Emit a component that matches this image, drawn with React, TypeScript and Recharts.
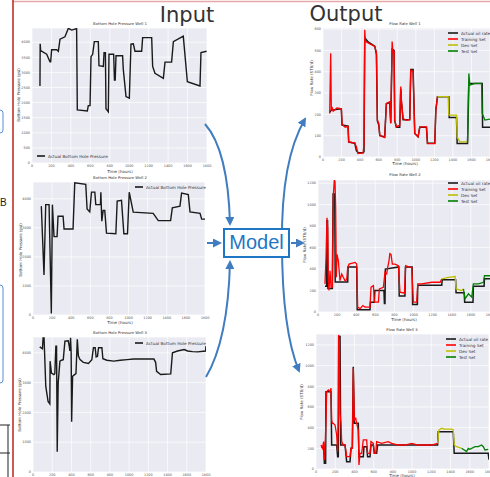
import { LineChart, Line, XAxis, YAxis, CartesianGrid, Legend } from 'recharts';

type Pt = [number, number];

// tick labels
const hourTicks = [0, 200, 400, 600, 800, 1000, 1200, 1400, 1600, 1800];
const psiTicksFine = [0, 500, 1000, 1500, 2000, 2500, 3000, 3500, 4000];
const psiTicks = [0, 1000, 2000, 3000, 4000];
const oilTicksWell1 = [0, 100, 200, 300, 400, 500, 600];
const oilTicks = [0, 200, 400, 600, 800, 1000, 1200];

// input: bottom hole pressure [hours, psi]
const bhpWell1: Pt[] = [
  [82, 2550], [84, 3950], [89, 3720], [151, 3600], [185, 3350], [192, 3350], [202, 3750], [254, 3750],
  [271, 3700], [288, 4100], [339, 4180], [374, 4460], [408, 4400], [459, 4450], [466, 1760], [569, 1720],
  [579, 1900], [597, 1900], [607, 3520], [624, 3600], [641, 4020], [682, 4020], [689, 3220], [734, 3200],
  [741, 3650], [755, 3650], [761, 1800], [785, 1700], [792, 3600], [840, 3600], [848, 2750], [856, 2750],
  [864, 3550], [932, 3550], [939, 3100], [967, 2200], [1001, 2150], [1018, 3940], [1042, 3950], [1059, 3700],
  [1128, 3700], [1138, 4150], [1231, 4150], [1241, 3200], [1265, 2970], [1351, 2800], [1368, 3340], [1436, 3340],
  [1454, 4020], [1556, 4200], [1598, 2690], [1728, 2550], [1738, 3660], [1796, 3700],
];
const bhpWell2: Pt[] = [
  [87, 3750], [115, 1380], [133, 3800], [168, 3800], [192, 50], [203, 3800], [220, 2700], [252, 2700],
  [262, 3400], [315, 3400], [325, 2960], [419, 2960], [437, 4550], [552, 4500], [566, 3650], [594, 3550],
  [612, 4230], [647, 4230], [657, 3800], [706, 3800], [710, 4230], [720, 3230], [734, 3600], [751, 3600],
  [769, 2820], [867, 2800], [881, 3920], [926, 3950], [951, 2800], [989, 2800], [1007, 4230], [1049, 3540],
  [1258, 3500], [1311, 3250], [1440, 3250], [1458, 3690], [1538, 3750], [1555, 4200], [1625, 4150], [1643, 3550],
  [1748, 3500], [1765, 3300], [1800, 3300],
];
const bhpWell3: Pt[] = [
  [70, 4200], [98, 4135], [105, 4500], [115, 4500], [133, 2870], [157, 2370], [175, 2290], [178, 3720],
  [192, 3320], [217, 3270], [227, 3300], [238, 4225], [245, 4225], [252, 680], [262, 2990], [280, 3720],
  [297, 3750], [315, 3770], [332, 4390], [367, 4400], [377, 4225], [384, 4060], [391, 4500], [397, 4000],
  [402, 1690], [412, 3210], [426, 3250], [447, 3300], [461, 4450], [472, 3900], [489, 3770], [524, 3680],
  [577, 3640], [612, 3770], [629, 4170], [647, 4170], [657, 3860], [671, 3880], [682, 4170], [717, 4170],
  [727, 3800], [769, 3750], [839, 3720], [909, 3750], [979, 3770], [1049, 3790], [1258, 3790], [1276, 3680],
  [1286, 3380], [1328, 3270], [1433, 3290], [1451, 4000], [1503, 4060], [1573, 4110], [1608, 4060], [1660, 4040],
  [1713, 4030], [1795, 4060], [1800, 4225],
];

// output: flow rate [hours, STB/d]
const well1Actual: Pt[] = [
  [72, 210], [90, 220], [180, 225], [198, 225], [205, 150], [270, 145], [277, 70], [342, 65], [360, 30],
  [378, 20], [432, 20], [442, 25], [450, 560], [486, 540], [558, 520], [576, 480], [586, 170], [601, 150],
  [612, 100], [665, 95], [683, 250], [719, 255], [730, 160], [745, 505], [766, 500], [773, 170], [791, 140],
  [827, 140], [838, 320], [845, 260], [863, 175], [935, 175], [946, 410], [971, 410], [989, 110], [1025, 95],
  [1043, 140], [1115, 140], [1126, 65], [1205, 65], [1216, 220], [1234, 283], [1356, 283], [1360, 185],
  [1439, 185], [1446, 63], [1558, 63], [1572, 345], [1716, 345], [1720, 140], [1800, 140],
];
const well1Train: Pt[] = [
  [72, 204], [83, 487], [90, 220], [97, 235], [110, 215], [126, 220], [150, 230], [180, 228], [198, 222],
  [205, 157], [216, 149], [240, 140], [270, 144], [277, 71], [310, 68], [342, 66], [360, 47], [378, 16],
  [432, 19], [442, 60], [450, 597], [457, 542], [486, 535], [558, 518], [576, 490], [586, 173], [601, 157],
  [612, 102], [640, 95], [665, 91], [683, 251], [719, 259], [730, 157], [745, 542], [755, 487], [766, 500],
  [773, 173], [791, 141], [827, 150], [838, 330], [845, 267], [863, 180], [900, 172], [935, 176], [946, 408],
  [971, 400], [989, 110], [1025, 94], [1043, 141], [1115, 141], [1126, 63], [1205, 63], [1216, 220], [1234, 283],
];
const well1Dev: Pt[] = [
  [1234, 283], [1349, 283], [1356, 196], [1439, 196], [1446, 94], [1475, 71], [1547, 71], [1558, 71],
];
const well1Test: Pt[] = [
  [1558, 71], [1572, 392], [1583, 337], [1637, 345], [1709, 345], [1716, 204], [1745, 173], [1799, 178],
];

const well2Actual: Pt[] = [
  [73, 240], [90, 240], [94, 850], [100, 850], [104, 220], [150, 220], [158, 1100], [175, 1100], [180, 280],
  [311, 280], [315, 420], [405, 420], [410, 20], [544, 20], [548, 90], [590, 90], [595, 200], [690, 200],
  [695, 80], [701, 80], [705, 400], [846, 420], [850, 150], [910, 150], [915, 420], [985, 420], [990, 70],
  [1040, 70], [1044, 250], [1295, 250], [1300, 300], [1440, 300], [1445, 180], [1530, 180], [1535, 90],
  [1622, 90], [1626, 240], [1738, 240], [1742, 310], [1800, 310],
];
const well2Train: Pt[] = [
  [73, 262], [84, 508], [94, 877], [101, 785], [108, 292], [115, 200], [126, 385], [136, 231], [150, 231],
  [161, 1092], [171, 1231], [178, 1215], [185, 969], [192, 323], [199, 538], [213, 477], [230, 292], [248, 354],
  [265, 323], [283, 292], [300, 300], [311, 415], [325, 446], [388, 462], [405, 446], [415, 46], [440, 31],
  [470, 60], [492, 46], [544, 46], [555, 231], [580, 246], [590, 92], [632, 92], [642, 215], [684, 230],
  [701, 369], [719, 354], [729, 415], [743, 477], [752, 545], [764, 538], [778, 446], [806, 446], [841, 431],
  [858, 185], [904, 175], [918, 431], [963, 415], [981, 415], [998, 92], [1033, 92], [1044, 262], [1086, 262],
  [1190, 277], [1278, 277], [1295, 308],
];
const well2Dev: Pt[] = [
  [1295, 308], [1365, 323], [1435, 330], [1445, 215], [1504, 200], [1522, 215],
];
const well2Test: Pt[] = [
  [1522, 215], [1539, 123], [1574, 169], [1609, 138], [1626, 262], [1679, 262], [1731, 277], [1742, 338],
  [1800, 338],
];

const well3Actual: Pt[] = [
  [52, 216], [80, 216], [87, 55], [100, 55], [104, 748], [156, 748], [163, 232], [215, 232], [225, 119],
  [232, 119], [236, 1281], [250, 1281], [257, 232], [302, 232], [319, 71], [354, 71], [364, 200], [378, 200],
  [388, 990], [399, 442], [440, 442], [447, 119], [492, 119], [499, 216], [527, 216], [537, 119], [562, 119],
  [572, 232], [596, 232], [607, 152], [631, 152], [641, 232], [1265, 232], [1272, 361], [1428, 361],
  [1438, 152], [1792, 152], [1800, 90],
];
const well3Train: Pt[] = [
  [52, 232], [66, 200], [80, 265], [87, 87], [94, 200], [104, 474], [111, 748], [128, 765], [146, 748],
  [156, 781], [163, 474], [170, 442], [180, 442], [198, 426], [215, 329], [225, 168], [232, 500], [236, 1297],
  [243, 1248], [250, 539], [260, 442], [267, 265], [284, 232], [302, 232], [319, 119], [354, 119], [364, 200],
  [378, 200], [388, 974], [399, 474], [413, 490], [423, 442], [440, 377], [447, 39], [458, 152], [475, 152],
  [492, 281], [527, 281], [537, 152], [562, 152], [572, 265], [596, 248], [607, 152], [621, 152], [631, 265],
  [683, 248], [752, 265], [787, 248], [856, 232], [926, 232], [995, 248], [1064, 232], [1203, 232], [1265, 248],
];
const well3Dev: Pt[] = [
  [1265, 248], [1279, 377], [1306, 394], [1341, 385], [1411, 385], [1428, 377], [1438, 232], [1463, 216],
  [1515, 200],
];
const well3Test: Pt[] = [
  [1515, 200], [1567, 168], [1584, 200], [1602, 190], [1654, 216], [1688, 216], [1723, 232], [1741, 216],
  [1758, 184], [1792, 190],
];

const bhpName = 'Actual Bottom Hole Pressure';
const flowNames = ['Actual oil rate', 'Training Set', 'Dev Set', 'Test Set'];

type Series = { name: string; color: string; points: Pt[]; width: number };
type Box = { x: number; y: number; w: number; h: number };

const YW = 16;
const XH = 9;
const MT = 1;
const MR = 7;
const chartFont = '"DejaVu Sans", sans-serif';

const LegendRows = ({ payload, order, iconW }: any) => {
  const items = [...(payload ?? [])].sort(
    (a: any, b: any) => order.indexOf(a.value) - order.indexOf(b.value)
  );
  return (
    <div style={{ fontFamily: chartFont, fontSize: 4.2, color: '#333' }}>
      {items.map((it: any) => (
        <div key={it.value} style={{ display: 'flex', alignItems: 'center', height: 6 }}>
          <svg width={iconW} height={6}>
            <line x1={0} x2={iconW} y1={3} y2={3} stroke={it.color} strokeWidth={1.6} />
          </svg>
          <span style={{ marginLeft: 3, whiteSpace: 'nowrap' }}>{it.value}</span>
        </div>
      ))}
    </div>
  );
};

const Label = ({ x, y, text, size = 4, rotate = false }: any) => (
  <div
    style={{
      position: 'absolute',
      left: x,
      top: y,
      transform: `translate(-50%, -50%)${rotate ? ' rotate(-90deg)' : ''}`,
      fontFamily: chartFont,
      fontSize: size,
      color: '#333',
      whiteSpace: 'nowrap',
      lineHeight: 1,
    }}
  >
    {text}
  </div>
);

const Panel = ({ box, yMax, yTicks, series, legendAt, iconW }: {
  box: Box; yMax: number; yTicks: number[]; series: Series[]; legendAt: [number, number]; iconW: number;
}) => {
  const ox = box.x - YW;
  const oy = box.y - MT;
  return (
    <div style={{ position: 'absolute', left: ox, top: oy }}>
      <LineChart
        width={box.w + YW + MR}
        height={box.h + MT + XH}
        margin={{ top: MT, right: MR, bottom: 0, left: 0 }}
      >
        <CartesianGrid fill="#EAEAF2" fillOpacity={1} stroke="#ffffff" strokeWidth={0.7} />
        <XAxis
          type="number"
          dataKey="h"
          domain={[0, 1800]}
          ticks={hourTicks}
          interval={0}
          allowDataOverflow
          height={XH}
          axisLine={false}
          tickLine={false}
          tickSize={0}
          tickMargin={2}
          tick={{ fontSize: 3.4, fill: '#555', fontFamily: chartFont }}
        />
        <YAxis
          type="number"
          domain={[0, yMax]}
          ticks={yTicks}
          interval={0}
          allowDataOverflow
          width={YW}
          axisLine={false}
          tickLine={false}
          tickSize={0}
          tickMargin={2}
          tick={{ fontSize: 3.4, fill: '#555', fontFamily: chartFont }}
        />
        {series.map((s) => (
          <Line
            key={s.name}
            name={s.name}
            data={s.points.map(([h, v]) => ({ h, v }))}
            dataKey="v"
            type="linear"
            stroke={s.color}
            strokeWidth={s.width}
            dot={false}
            isAnimationActive={false}
          />
        ))}
        <Legend
          layout="vertical"
          align="center"
          verticalAlign="middle"
          wrapperStyle={{ left: legendAt[0] - ox, top: legendAt[1] - 3 - oy, width: 'auto' }}
          content={(p: any) => (
            <LegendRows payload={p.payload} order={series.map((s) => s.name)} iconW={iconW} />
          )}
        />
      </LineChart>
    </div>
  );
};

const flowSeries = (actual: Pt[], train: Pt[], dev: Pt[], test: Pt[]): Series[] => [
  { name: flowNames[0], color: '#1a1a1a', points: actual, width: 1.5 },
  { name: flowNames[1], color: '#ff0000', points: train, width: 1.3 },
  { name: flowNames[2], color: '#bfbf00', points: dev, width: 1.3 },
  { name: flowNames[3], color: '#008000', points: test, width: 1.3 },
];

const blue = '#3f7dc0';

export default function App() {
  return (
    <div
      style={{
        position: 'absolute',
        left: 0,
        top: 0,
        width: 490,
        height: 477,
        overflow: 'hidden',
        background: '#fff',
      }}
    >
      {/* slide edge decorations */}
      <svg width={490} height={477} style={{ position: 'absolute', left: 0, top: 0 }}>
        <line x1={13} y1={1.5} x2={490} y2={1.5} stroke="#e6a9a9" strokeWidth={1.5} />
        <line x1={13} y1={0} x2={13} y2={477} stroke="#c0302a" strokeWidth={1.6} />
        <rect x={-20} y={110} width={23} height={23} rx={3} fill="none" stroke="#5b8fd6" strokeWidth={1} />
        <rect x={-20} y={285} width={23} height={98} rx={3} fill="none" stroke="#5b8fd6" strokeWidth={1} />
        <line x1={0} y1={425} x2={10} y2={425} stroke="#222" strokeWidth={1} />
        <line x1={0} y1={453} x2={10} y2={453} stroke="#222" strokeWidth={1} />
        <line x1={8} y1={425} x2={8} y2={477} stroke="#222" strokeWidth={1} />
      </svg>
      <div
        style={{
          position: 'absolute', left: 0, top: 198, fontFamily: '"Liberation Sans", Arial, sans-serif',
          fontSize: 10, color: '#222', lineHeight: 1,
        }}
      >
        B
      </div>

      <Label x={187} y={15} text="Input" size={21} />
      <Label x={346} y={14} text="Output" size={21} />

      {/* input charts */}
      <Panel
        box={{ x: 32, y: 28, w: 175, h: 135 }}
        yMax={4470}
        yTicks={psiTicksFine}
        series={[{ name: bhpName, color: '#1a1a1a', points: bhpWell1, width: 1.4 }]}
        legendAt={[37, 156]}
        iconW={8}
      />
      <Label x={120} y={24} text="Bottom Hole Pressure Well 1" size={3.8} />
      <Label x={19} y={95} text="Bottom Hole Pressure (psi)" rotate />
      <Label x={120} y={172} text="Time (hours)" />

      <Panel
        box={{ x: 33, y: 182, w: 172, h: 133 }}
        yMax={4580}
        yTicks={psiTicks}
        series={[{ name: bhpName, color: '#1a1a1a', points: bhpWell2, width: 1.4 }]}
        legendAt={[135, 187]}
        iconW={8}
      />
      <Label x={120} y={178} text="Bottom Hole Pressure Well 2" size={3.8} />
      <Label x={21} y={250} text="Bottom Hole Pressure (psi)" rotate />
      <Label x={120} y={323} text="Time (hours)" />

      <Panel
        box={{ x: 33, y: 337, w: 173, h: 135 }}
        yMax={4530}
        yTicks={psiTicks}
        series={[{ name: bhpName, color: '#1a1a1a', points: bhpWell3, width: 1.4 }]}
        legendAt={[135, 343]}
        iconW={8}
      />
      <Label x={120} y={333} text="Bottom Hole Pressure Well 3" size={3.8} />
      <Label x={20} y={405} text="Bottom Hole Pressure (psi)" rotate />

      {/* output charts */}
      <Panel
        box={{ x: 323, y: 28, w: 167, h: 129 }}
        yMax={605}
        yTicks={oilTicksWell1}
        series={flowSeries(well1Actual, well1Train, well1Dev, well1Test)}
        legendAt={[448, 33]}
        iconW={10}
      />
      <Label x={405} y={24} text="Flow Rate Well 1" size={3.8} />
      <Label x={312} y={78} text="Flow Rate (STB/d)" rotate />
      <Label x={405} y={164} text="Time (hours)" />

      <Panel
        box={{ x: 318, y: 180, w: 172, h: 132 }}
        yMax={1230}
        yTicks={oilTicks}
        series={flowSeries(well2Actual, well2Train, well2Dev, well2Test)}
        legendAt={[448, 183]}
        iconW={10}
      />
      <Label x={405} y={175} text="Flow Rate Well 2" size={3.8} />
      <Label x={305} y={245} text="Flow Rate (STB/d)" rotate />
      <Label x={404} y={320} text="Time (hours)" />

      <Panel
        box={{ x: 316, y: 334, w: 173, h: 135 }}
        yMax={1306}
        yTicks={oilTicks}
        series={flowSeries(well3Actual, well3Train, well3Dev, well3Test)}
        legendAt={[446, 339]}
        iconW={10}
      />
      <Label x={402} y={330} text="Flow Rate Well 3" size={3.8} />
      <Label x={302} y={402} text="Flow Rate (STB/d)" rotate />
      <Label x={402} y={476} text="Time (hours)" />

      {/* flow arrows */}
      <svg width={490} height={477} style={{ position: 'absolute', left: 0, top: 0, pointerEvents: 'none' }}>
        <defs>
          <marker id="ah" markerUnits="userSpaceOnUse" markerWidth={9} markerHeight={9} refX={7} refY={4.5} orient="auto">
            <path d="M0,0 L9,4.5 L0,9 z" fill={blue} />
          </marker>
        </defs>
        <g fill="none" stroke={blue} strokeWidth={2}>
          <path d="M205,124 Q228,150 230,224" markerEnd="url(#ah)" />
          <path d="M207,243 L220,243" markerEnd="url(#ah)" />
          <path d="M206,377 Q228,340 230,262" markerEnd="url(#ah)" />
          <path d="M282,243 Q281,160 305,119" markerEnd="url(#ah)" />
          <path d="M282,243 Q282,330 299,371" markerEnd="url(#ah)" />
          <path d="M291,243 L303,243" markerEnd="url(#ah)" />
        </g>
      </svg>
      <div
        style={{
          position: 'absolute',
          left: 223,
          top: 228,
          width: 67,
          height: 30,
          boxSizing: 'border-box',
          border: '2.5px solid #1f76c4',
          background: '#fff',
          color: '#1f76c4',
          fontFamily: '"Liberation Sans", Arial, sans-serif',
          fontSize: 20,
          lineHeight: '25px',
          textAlign: 'center',
        }}
      >
        Model
      </div>
    </div>
  );
}
